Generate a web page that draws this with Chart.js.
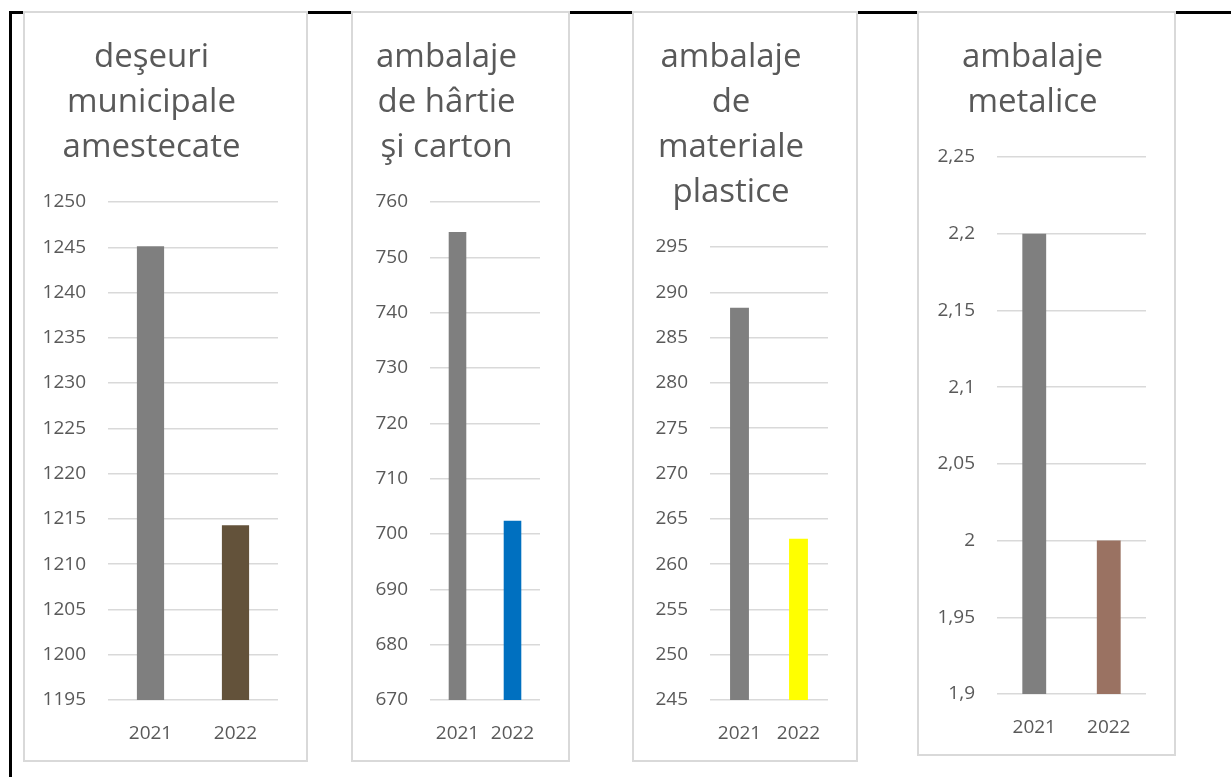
<!DOCTYPE html>
<html>
<head>
<meta charset="utf-8">
<script src="https://cdn.jsdelivr.net/npm/chart.js@4"></script>
<style>
  body { margin: 0; background: #fff; width: 1231px; height: 777px; overflow: hidden; position: relative; }
  .frame { position: absolute; left: 9px; top: 11px; right: 0; bottom: 0; border-top: 3px solid #000; border-left: 3px solid #000; }
  .panel { position: absolute; top: 11px; background: #fff; border: 2px solid #d9d9d9; box-sizing: border-box; }
  .panel div { position: relative; width: 100%; height: 100%; }
</style>
</head>
<body>
<div class="frame"></div>
<div class="panel" style="left:23px; width:285px; height:751px;"><div><canvas id="chart1"></canvas></div></div>
<div class="panel" style="left:351px; width:219px; height:751px;"><div><canvas id="chart2"></canvas></div></div>
<div class="panel" style="left:632px; width:226px; height:751px;"><div><canvas id="chart3"></canvas></div></div>
<div class="panel" style="left:917px; width:259px; height:745px;"><div><canvas id="chart4"></canvas></div></div>
<script>
const years = ["2021", "2022"];

const mixedWaste = [1245.1, 1214.3];
const paperPack = [754.6, 702.4];
const plasticPack = [288.3, 262.8];
const metalPack = [2.2, 2.0];

const title1 = ["deşeuri", "municipale", "amestecate"];
const title2 = ["ambalaje", "de hârtie", "şi carton"];
const title3 = ["ambalaje", "de", "materiale", "plastice"];
const title4 = ["ambalaje", "metalice"];

// y axis ranges: [min, max, step]
const range1 = [1195, 1250, 5];
const range2 = [670, 760, 10];
const range3 = [245, 295, 5];
const range4 = [1.9, 2.25, 0.05];

const FONT = "'Open Sans', sans-serif";
const TEXT = "#595959";

function makeConfig(values, colors, title, range, axisWidth) {
  return {
    type: "bar",
    data: {
      labels: years,
      datasets: [
        {
          data: values,
          backgroundColor: colors,
          borderWidth: 0,
          categoryPercentage: 1,
          barPercentage: 0.32,
        },
      ],
    },
    options: {
      animation: false,
      responsive: true,
      maintainAspectRatio: false,
      events: [],
      layout: { padding: { left: 0, right: 28, top: 0, bottom: 16 } },
      plugins: {
        legend: { display: false },
        tooltip: { enabled: false },
        title: {
          display: true,
          text: title,
          color: TEXT,
          font: { family: FONT, size: 33, weight: "normal", lineHeight: 45 / 33 },
          padding: { top: 22, bottom: 32 },
        },
      },
      scales: {
        x: {
          grid: { display: false, drawTicks: false },
          border: { display: false },
          ticks: { color: TEXT, font: { family: FONT, size: 19 }, padding: 22 },
          afterFit: (scale) => {
            scale.height = 44; // chart.js counts tick padding twice
          },
        },
        y: {
          min: range[0],
          max: range[1],
          border: { display: false },
          grid: { color: "#d9d9d9", lineWidth: 1.5, drawTicks: false },
          ticks: {
            stepSize: range[2],
            color: TEXT,
            font: { family: FONT, size: 19 },
            padding: 22,
            callback: (value) => String(Number(value.toFixed(2))).replace(".", ","),
          },
          afterFit: (scale) => {
            scale.width = axisWidth;
          },
        },
      },
    },
  };
}

const myChart1 = new Chart(
  document.getElementById("chart1"),
  makeConfig(mixedWaste, ["#7f7f7f", "#63523a"], title1, range1, 83)
);
const myChart2 = new Chart(
  document.getElementById("chart2"),
  makeConfig(paperPack, ["#7f7f7f", "#0070c0"], title2, range2, 77)
);
const myChart3 = new Chart(
  document.getElementById("chart3"),
  makeConfig(plasticPack, ["#7f7f7f", "#ffff00"], title3, range3, 76)
);
const myChart4 = new Chart(
  document.getElementById("chart4"),
  makeConfig(metalPack, ["#7f7f7f", "#9a7262"], title4, range4, 78)
);
</script>
</body>
</html>
